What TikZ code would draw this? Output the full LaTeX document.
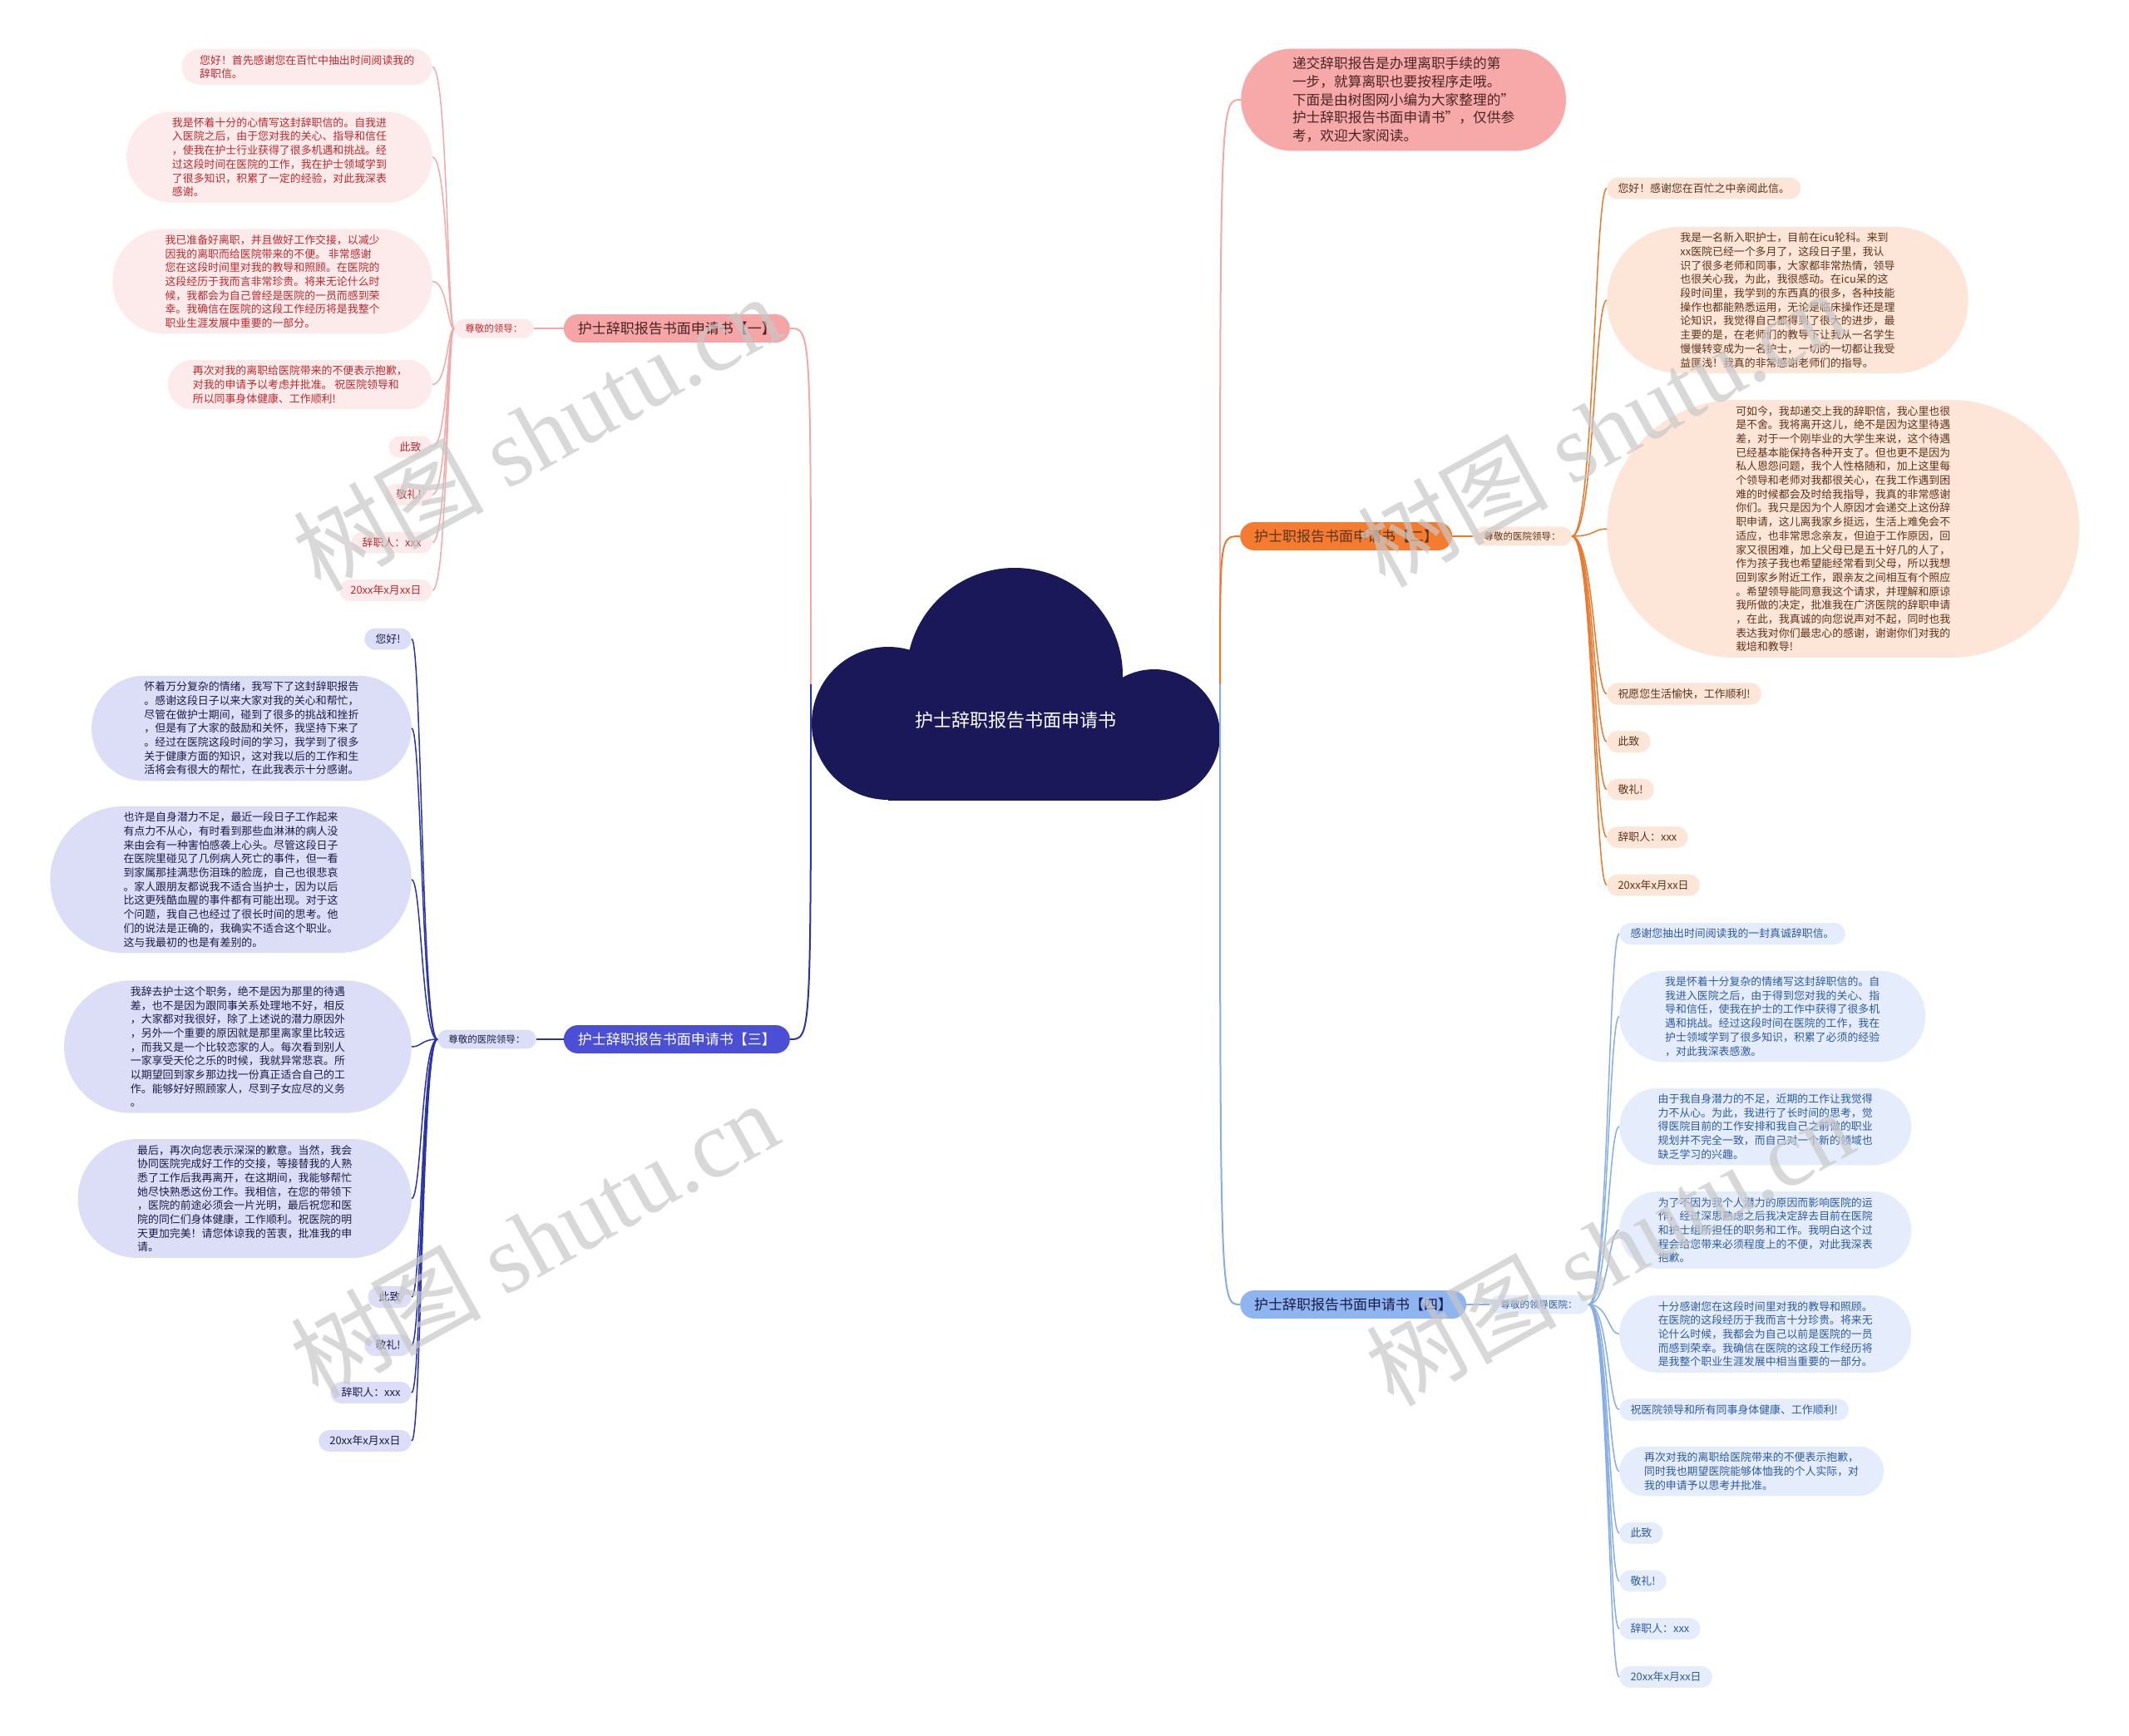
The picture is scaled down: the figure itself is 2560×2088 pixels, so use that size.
\documentclass[tikz,border=0pt]{standalone}
\usepackage{fontspec}
\setmainfont{Noto Sans CJK SC}
\newfontfamily\wmserif{Liberation Serif}
\usetikzlibrary{shapes.misc}
\usetikzlibrary{calc}
\definecolor{cloudblue}{HTML}{1A1858}
\definecolor{introfill}{HTML}{F7A9A9}
\definecolor{introtext}{HTML}{4A2424}
\definecolor{pinktop}{HTML}{F5A5A5}
\definecolor{pinkline}{HTML}{F2A9A9}
\definecolor{pinkleaf}{HTML}{FDEBEB}
\definecolor{pinktext}{HTML}{C0282D}
\definecolor{orangetop}{HTML}{F47C30}
\definecolor{orangeline}{HTML}{E87A30}
\definecolor{orangeleaf}{HTML}{FDE5D8}
\definecolor{orangetext}{HTML}{5E3318}
\definecolor{navytop}{HTML}{4A4FD6}
\definecolor{navyline}{HTML}{2B34A6}
\definecolor{navyleaf}{HTML}{DCDDF6}
\definecolor{navytext}{HTML}{1B1B4B}
\definecolor{skytop}{HTML}{8EB5F0}
\definecolor{skyline}{HTML}{86ADE6}
\definecolor{skyleaf}{HTML}{E5EDFC}
\definecolor{skytext}{HTML}{2C5AA3}
\definecolor{wmgray}{HTML}{C8C8C8}
\tikzset{
	% #1 = number of text lines, the side arcs then sit outside the text
	leaf/.style={rounded rectangle, inner xsep={sqrt(117*#1+23)}, inner ysep=7pt, align=left,
		font=\fontsize{12.9}{16.7}\selectfont},
	leafone/.style={leaf=#1, fill=pinkleaf, text=pinktext},
	leafone/.default=1,
	leaftwo/.style={leaf=#1, fill=orangeleaf, text=orangetext},
	leaftwo/.default=1,
	leafthree/.style={leaf=#1, fill=navyleaf, text=navytext},
	leafthree/.default=1,
	leaffour/.style={leaf=#1, fill=skyleaf, text=skytext},
	leaffour/.default=1,
	topic/.style={rounded rectangle, inner xsep=15pt, inner ysep=9pt,
		font=\fontsize{17}{20}\selectfont},
	salute/.style={rounded rectangle, inner xsep=12pt, inner ysep=6pt,
		font=\fontsize{11.5}{14}\selectfont},
	mainlink/.style={line width=2pt},
	leaflink/.style={line width=1.5pt},
	wmark/.style={font=\fontsize{115}{120}\selectfont, text=wmgray, text opacity=0.7, rotate=29}
}

\begin{document}
\begin{tikzpicture}[x=1pt, y=-1pt]
\useasboundingbox[fill=white] (0,0) rectangle (2560,2088);

% cloud
\fill[cloudblue] (1068,870) circle (92);
\fill[cloudblue] (1220,812) ellipse (130 and 129);
\fill[cloudblue] (1388,884) circle (79);
\fill[cloudblue] (1068,830) rectangle (1388,963);
\node[text=white, font=\fontsize{22}{26}\selectfont] (center) at (1221,866) {护士辞职报告书面申请书};
\coordinate (cL) at (975,823);
\coordinate (cR) at (1467,823);

% intro
\node[rounded rectangle, inner xsep=34pt, inner ysep=10pt, align=left, fill=introfill, text=introtext,
	font=\fontsize{16.7}{21.7}\selectfont, anchor=west] (intro) at (1492,120)
{递交辞职报告是办理离职手续的第\\一步，就算离职也要按程序走哦。\\下面是由树图网小编为大家整理的"\\护士辞职报告书面申请书"，仅供参\\考，欢迎大家阅读。};

% branch one
\node[topic, fill=pinktop, text=introtext, anchor=east] (one) at (950,395) {护士辞职报告书面申请书【一】};
\node[salute, fill=pinkleaf, text=pinktext, anchor=east] (sal1) at (642,395) {尊敬的领导：};
\coordinate (j1) at (538,395);

\node[leafone=2, anchor=east] (a1) at (520,80.5) {您好！首先感谢您在百忙中抽出时间阅读我的\\辞职信。};
\node[leafone=6, anchor=east] (a2) at (520,189) {我是怀着十分的心情写这封辞职信的。自我进\\入医院之后，由于您对我的关心、指导和信任\\，使我在护士行业获得了很多机遇和挑战。经\\过这段时间在医院的工作，我在护士领域学到\\了很多知识，积累了一定的经验，对此我深表\\感谢。};
\node[leafone=7, anchor=east] (a3) at (520,338.5) {我已准备好离职，并且做好工作交接，以减少\\因我的离职而给医院带来的不便。 非常感谢\\您在这段时间里对我的教导和照顾。在医院的\\这段经历于我而言非常珍贵。将来无论什么时\\候，我都会为自己曾经是医院的一员而感到荣\\幸。我确信在医院的这段工作经历将是我整个\\职业生涯发展中重要的一部分。};
\node[leafone=3, anchor=east] (a4) at (520,462.5) {再次对我的离职给医院带来的不便表示抱歉，\\对我的申请予以考虑并批准。 祝医院领导和\\所以同事身体健康、工作顺利!};
\node[leafone, anchor=east] (a5) at (520,537.5) {此致};
\node[leafone, anchor=east] (a6) at (520,595) {敬礼!};
\node[leafone, anchor=east] (a7) at (520,652.5) {辞职人：xxx};
\node[leafone, anchor=east] (a8) at (520,710) {20xx年x月xx日};

% branch two
\node[topic, fill=orangetop, text=orangetext, anchor=west] (two) at (1491,645) {护士职报告书面申请书【二】};
\node[salute, fill=orangeleaf, text=orangetext, anchor=west] (sal2) at (1771,645) {尊敬的医院领导：};
\coordinate (j2) at (1917,645);

\node[leaftwo, anchor=west] (b1) at (1932,226.5) {您好！感谢您在百忙之中亲阅此信。};
\node[leaftwo=10, anchor=west] (b2) at (1932,361) {我是一名新入职护士，目前在icu轮科。来到\\xx医院已经一个多月了，这段日子里，我认\\识了很多老师和同事，大家都非常热情，领导\\也很关心我，为此，我很感动。在icu呆的这\\段时间里，我学到的东西真的很多，各种技能\\操作也都能熟悉运用，无论是临床操作还是理\\论知识，我觉得自己都得到了很大的进步，最\\主要的是，在老师们的教导下让我从一名学生\\慢慢转变成为一名护士，一切的一切都让我受\\益匪浅！我真的非常感谢老师们的指导。};
\node[leaftwo=18, anchor=west] (b3) at (1932,636) {可如今，我却递交上我的辞职信，我心里也很\\是不舍。我将离开这儿，绝不是因为这里待遇\\差，对于一个刚毕业的大学生来说，这个待遇\\已经基本能保持各种开支了。但也更不是因为\\私人恩怨问题，我个人性格随和，加上这里每\\个领导和老师对我都很关心，在我工作遇到困\\难的时候都会及时给我指导，我真的非常感谢\\你们。我只是因为个人原因才会递交上这份辞\\职申请，这儿离我家乡挺远，生活上难免会不\\适应，也非常思念亲友，但迫于工作原因，回\\家又很困难，加上父母已是五十好几的人了，\\作为孩子我也希望能经常看到父母，所以我想\\回到家乡附近工作，跟亲友之间相互有个照应\\。希望领导能同意我这个请求，并理解和原谅\\我所做的决定，批准我在广济医院的辞职申请\\，在此，我真诚的向您说声对不起，同时也我\\表达我对你们最忠心的感谢，谢谢你们对我的\\栽培和教导!};
\node[leaftwo, anchor=west] (b4) at (1932,834.5) {祝愿您生活愉快，工作顺利!};
\node[leaftwo, anchor=west] (b5) at (1932,892) {此致};
\node[leaftwo, anchor=west] (b6) at (1932,949.5) {敬礼!};
\node[leaftwo, anchor=west] (b7) at (1932,1007) {辞职人：xxx};
\node[leaftwo, anchor=west] (b8) at (1932,1064.5) {20xx年x月xx日};

% branch three
\node[topic, fill=navytop, text=white, anchor=east] (three) at (950,1250) {护士辞职报告书面申请书【三】};
\node[salute, fill=navyleaf, text=navytext, anchor=east] (sal3) at (645,1250) {尊敬的医院领导：};
\coordinate (j3) at (507,1250);

\node[leafthree, anchor=east] (c1) at (495,768.5) {您好!};
\node[leafthree=7, anchor=east] (c2) at (495,876) {怀着万分复杂的情绪，我写下了这封辞职报告\\。感谢这段日子以来大家对我的关心和帮忙，\\尽管在做护士期间，碰到了很多的挑战和挫折\\，但是有了大家的鼓励和关怀，我坚持下来了\\。经过在医院这段时间的学习，我学到了很多\\关于健康方面的知识，这对我以后的工作和生\\活将会有很大的帮忙，在此我表示十分感谢。};
\node[leafthree=10, anchor=east] (c3) at (495,1058) {也许是自身潜力不足，最近一段日子工作起来\\有点力不从心，有时看到那些血淋淋的病人没\\来由会有一种害怕感袭上心头。尽管这段日子\\在医院里碰见了几例病人死亡的事件，但一看\\到家属那挂满悲伤泪珠的脸庞，自己也很悲哀\\。家人跟朋友都说我不适合当护士，因为以后\\比这更残酷血腥的事件都有可能出现。对于这\\个问题，我自己也经过了很长时间的思考。他\\们的说法是正确的，我确实不适合这个职业。\\这与我最初的也是有差别的。};
\node[leafthree=9, anchor=east] (c4) at (495,1259) {我辞去护士这个职务，绝不是因为那里的待遇\\差，也不是因为跟同事关系处理地不好，相反\\，大家都对我很好，除了上述说的潜力原因外\\，另外一个重要的原因就是那里离家里比较远\\，而我又是一个比较恋家的人。每次看到别人\\一家享受天伦之乐的时候，我就异常悲哀。所\\以期望回到家乡那边找一份真正适合自己的工\\作。能够好好照顾家人，尽到子女应尽的义务\\。};
\node[leafthree=8, anchor=east] (c5) at (495,1441.5) {最后，再次向您表示深深的歉意。当然，我会\\协同医院完成好工作的交接，等接替我的人熟\\悉了工作后我再离开，在这期间，我能够帮忙\\她尽快熟悉这份工作。我相信，在您的带领下\\，医院的前途必须会一片光明，最后祝您和医\\院的同仁们身体健康，工作顺利。祝医院的明\\天更加完美！请您体谅我的苦衷，批准我的申\\请。};
\node[leafthree, anchor=east] (c6) at (495,1560) {此致};
\node[leafthree, anchor=east] (c7) at (495,1618) {敬礼!};
\node[leafthree, anchor=east] (c8) at (495,1675) {辞职人：xxx};
\node[leafthree, anchor=east] (c9) at (495,1733) {20xx年x月xx日};

% branch four
\node[topic, fill=skytop, text=navytext, anchor=west] (four) at (1491,1569) {护士辞职报告书面申请书【四】};
\node[salute, fill=skyleaf, text=skytext, anchor=west] (sal4) at (1791,1569) {尊敬的领导医院：};
\coordinate (j4) at (1934,1569);

\node[leaffour, anchor=west] (d1) at (1947,1123) {感谢您抽出时间阅读我的一封真诚辞职信。};
\node[leaffour=6, anchor=west] (d2) at (1947,1222.5) {我是怀着十分复杂的情绪写这封辞职信的。自\\我进入医院之后，由于得到您对我的关心、指\\导和信任，使我在护士的工作中获得了很多机\\遇和挑战。经过这段时间在医院的工作，我在\\护士领域学到了很多知识，积累了必须的经验\\，对此我深表感激。};
\node[leaffour=5, anchor=west] (d3) at (1947,1355) {由于我自身潜力的不足，近期的工作让我觉得\\力不从心。为此，我进行了长时间的思考，觉\\得医院目前的工作安排和我自己之前做的职业\\规划并不完全一致，而自己对一个新的领域也\\缺乏学习的兴趣。};
\node[leaffour=5, anchor=west] (d4) at (1947,1479.5) {为了不因为我个人潜力的原因而影响医院的运\\作，经过深思熟虑之后我决定辞去目前在医院\\和护士组所担任的职务和工作。我明白这个过\\程会给您带来必须程度上的不便，对此我深表\\抱歉。};
\node[leaffour=5, anchor=west] (d5) at (1947,1604.5) {十分感谢您在这段时间里对我的教导和照顾。\\在医院的这段经历于我而言十分珍贵。将来无\\论什么时候，我都会为自己以前是医院的一员\\而感到荣幸。我确信在医院的这段工作经历将\\是我整个职业生涯发展中相当重要的一部分。};
\node[leaffour, anchor=west] (d6) at (1947,1695.5) {祝医院领导和所有同事身体健康、工作顺利!};
\node[leaffour=3, anchor=west] (d7) at (1947,1769.5) {再次对我的离职给医院带来的不便表示抱歉，\\同时我也期望医院能够体恤我的个人实际，对\\我的申请予以思考并批准。};
\node[leaffour, anchor=west] (d8) at (1947,1844) {此致};
\node[leaffour, anchor=west] (d9) at (1947,1901.5) {敬礼!};
\node[leaffour, anchor=west] (d10) at (1947,1959) {辞职人：xxx};
\node[leaffour, anchor=west] (d11) at (1947,2017) {20xx年x月xx日};

% connectors from the cloud
\draw[mainlink, pinkline] (cR) .. controls (cR |- intro.west) .. (intro.west);
\draw[mainlink, pinkline] (cL) .. controls (cL |- one.east) .. (one.east);
\draw[mainlink, orangeline] (cR) .. controls (cR |- two.west) .. (two.west);
\draw[mainlink, navyline] (cL) .. controls (cL |- three.east) .. (three.east);
\draw[mainlink, skyline] (cR) .. controls (cR |- four.west) .. (four.west);

% connectors to the leaves
\draw[leaflink, pinkline] (one.west) -- (sal1.east);
\foreach \i in {1,...,8}
	\draw[leaflink, pinkline] (sal1.west) .. controls (j1) and (j1 |- a\i.east) .. (a\i.east);
\draw[leaflink, orangeline] (two.east) -- (sal2.west);
\foreach \i in {1,...,8}
	\draw[leaflink, orangeline] (sal2.east) .. controls (j2) and (j2 |- b\i.west) .. (b\i.west);
\draw[leaflink, navyline] (three.west) -- (sal3.east);
\foreach \i in {1,...,9}
	\draw[leaflink, navyline] (sal3.west) .. controls (j3) and (j3 |- c\i.east) .. (c\i.east);
\draw[leaflink, skyline] (four.east) -- (sal4.west);
\foreach \i in {1,...,11}
	\draw[leaflink, skyline] (sal4.east) .. controls (j4) and (j4 |- d\i.west) .. (d\i.west);

% watermarks
\node[wmark] (wm1) at (645,520) {树图 {\wmserif shutu.cn}};
\node[wmark] (wm2) at (1925,515) {树图 {\wmserif shutu.cn}};
\node[wmark] (wm3) at (642,1490) {树图 {\wmserif shutu.cn}};
\node[wmark] (wm4) at (1935,1500) {树图 {\wmserif shutu.cn}};
\end{tikzpicture}
\end{document}
